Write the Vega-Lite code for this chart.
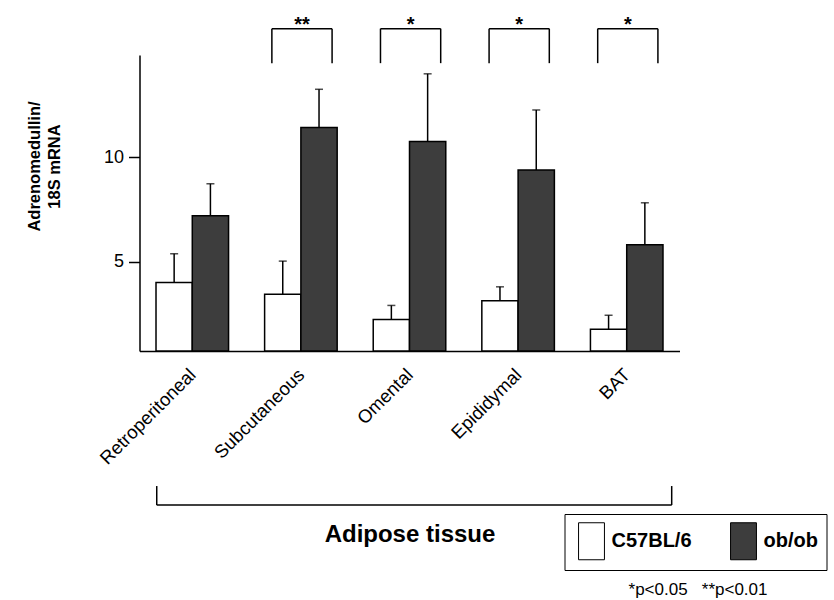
{
  "$schema": "https://vega.github.io/schema/vega-lite/v6.json",
  "width": 540,
  "height": 296,
  "autosize": {"type": "none"},
  "padding": {"left": 139.5, "top": 55, "right": 154.5, "bottom": 249},
  "background": "white",
  "config": {
    "view": {"stroke": null},
    "font": "Liberation Sans",
    "axis": {"domainColor": "black", "tickColor": "black", "labelColor": "black", "titleColor": "black", "domainWidth": 1.5, "tickWidth": 1.5, "grid": false}
  },
  "title": {
    "text": "*p<0.05\u00a0\u00a0\u00a0**p<0.01",
    "orient": "bottom",
    "anchor": "end",
    "frame": "group",
    "fontSize": 17,
    "fontWeight": "normal",
    "color": "black",
    "dx": 88,
    "offset": 11
  },
  "datasets": {
    "expr": [
      {"tissue": "Retroperitoneal", "genotype": "C57BL/6", "value": 4.01, "upper": 5.38},
      {"tissue": "Retroperitoneal", "genotype": "ob/ob", "value": 7.2, "upper": 8.73},
      {"tissue": "Subcutaneous", "genotype": "C57BL/6", "value": 3.44, "upper": 5.03},
      {"tissue": "Subcutaneous", "genotype": "ob/ob", "value": 11.42, "upper": 13.25},
      {"tissue": "Omental", "genotype": "C57BL/6", "value": 2.24, "upper": 2.91},
      {"tissue": "Omental", "genotype": "ob/ob", "value": 10.75, "upper": 13.99},
      {"tissue": "Epididymal", "genotype": "C57BL/6", "value": 3.13, "upper": 3.8},
      {"tissue": "Epididymal", "genotype": "ob/ob", "value": 9.39, "upper": 12.26},
      {"tissue": "BAT", "genotype": "C57BL/6", "value": 1.77, "upper": 2.44},
      {"tissue": "BAT", "genotype": "ob/ob", "value": 5.81, "upper": 7.82}
    ],
    "sig": [
      {"tissue": "Subcutaneous", "label": "**"},
      {"tissue": "Omental", "label": "*"},
      {"tissue": "Epididymal", "label": "*"},
      {"tissue": "BAT", "label": "*"}
    ],
    "span": [{"group": "Adipose tissue"}]
  },
  "encoding": {
    "x": {
      "field": "tissue",
      "type": "nominal",
      "scale": {"domain": ["Retroperitoneal", "Subcutaneous", "Omental", "Epididymal", "BAT"], "paddingInner": 0.332, "paddingOuter": 0.152},
      "axis": {
        "title": "Adipose tissue",
        "ticks": false,
        "labelAngle": -45,
        "labelAlign": "right",
        "labelBaseline": "top",
        "labelFontSize": 18.5,
        "labelPadding": 14,
        "labelOffset": -6,
        "titleFontSize": 24,
        "titleFontWeight": "bold",
        "titleY": 190,
        "titleBaseline": "alphabetic"
      }
    }
  },
  "layer": [
    {
      "data": {"name": "expr"},
      "mark": {"type": "bar", "stroke": "black", "strokeWidth": 1.5},
      "encoding": {
        "xOffset": {"field": "genotype", "type": "nominal", "scale": {"domain": ["C57BL/6", "ob/ob"], "paddingInner": 0, "paddingOuter": 0}},
        "y": {
          "field": "value",
          "type": "quantitative",
          "scale": {"domain": [0.73, 14.89], "nice": false, "zero": false},
          "axis": {
            "title": ["Adrenomedullin/", "18S mRNA"],
            "values": [5, 10],
            "tickSize": 11,
            "labelPadding": 5,
            "labelFontSize": 18,
            "titleFontSize": 16.5,
            "titleFontWeight": "bold",
            "titleLineHeight": 20,
            "titleAngle": -90,
            "titleAlign": "center",
            "titleBaseline": "top",
            "titleX": -113,
            "titleY": 111
          }
        },
        "y2": {"datum": 0.73},
        "fill": {
          "field": "genotype",
          "type": "nominal",
          "scale": {"domain": ["C57BL/6", "ob/ob"], "range": ["white", "#3d3d3d"]},
          "legend": {
            "orient": "none",
            "legendX": 425,
            "legendY": 459,
            "direction": "horizontal",
            "title": null,
            "strokeColor": "black",
            "fillColor": "white",
            "padding": 8,
            "symbolType": "M-0.7,-1H0.7V1H-0.7Z",
            "symbolSize": 1369,
            "symbolStrokeColor": "black",
            "symbolStrokeWidth": 1,
            "symbolOpacity": 1,
            "labelFontSize": 20,
            "labelFontWeight": "bold",
            "labelColor": "black",
            "labelOffset": 1,
            "columnPadding": 32
          }
        }
      }
    },
    {
      "data": {"name": "expr"},
      "mark": {"type": "rule", "color": "black", "strokeWidth": 1.5},
      "encoding": {
        "xOffset": {"field": "genotype", "type": "nominal"},
        "y": {"field": "value", "type": "quantitative"},
        "y2": {"field": "upper"}
      }
    },
    {
      "data": {"name": "expr"},
      "mark": {"type": "tick", "orient": "horizontal", "size": 8, "thickness": 1.5, "color": "black"},
      "encoding": {
        "xOffset": {"field": "genotype", "type": "nominal"},
        "y": {"field": "upper", "type": "quantitative"}
      }
    },
    {
      "data": {"name": "sig"},
      "mark": {"type": "rule", "color": "black", "strokeWidth": 1.5},
      "encoding": {
        "x": {"field": "tissue", "type": "nominal", "bandPosition": 0.1},
        "x2": {"field": "tissue", "bandPosition": 0.93},
        "y": {"datum": 16.15}
      }
    },
    {
      "data": {"name": "sig"},
      "mark": {"type": "rule", "color": "black", "strokeWidth": 1.5},
      "encoding": {
        "x": {"field": "tissue", "type": "nominal", "bandPosition": 0.1},
        "y": {"datum": 14.5},
        "y2": {"datum": 16.15}
      }
    },
    {
      "data": {"name": "sig"},
      "mark": {"type": "rule", "color": "black", "strokeWidth": 1.5},
      "encoding": {
        "x": {"field": "tissue", "type": "nominal", "bandPosition": 0.93},
        "y": {"datum": 14.5},
        "y2": {"datum": 16.15}
      }
    },
    {
      "data": {"name": "sig"},
      "mark": {"type": "text", "color": "black", "fontSize": 20, "fontWeight": "bold", "baseline": "alphabetic", "dy": 2},
      "encoding": {
        "x": {"field": "tissue", "type": "nominal", "bandPosition": 0.515},
        "y": {"datum": 16.15},
        "text": {"field": "label"}
      }
    },
    {
      "data": {"name": "span"},
      "mark": {"type": "rule", "color": "black", "strokeWidth": 1.5},
      "encoding": {
        "x": {"datum": "Retroperitoneal", "bandPosition": 0.01},
        "x2": {"datum": "BAT", "bandPosition": 1.12},
        "y": {"datum": -6.64}
      }
    },
    {
      "data": {"name": "span"},
      "mark": {"type": "rule", "color": "black", "strokeWidth": 1.5},
      "encoding": {
        "x": {"datum": "Retroperitoneal", "bandPosition": 0.01},
        "y": {"datum": -5.73},
        "y2": {"datum": -6.64}
      }
    },
    {
      "data": {"name": "span"},
      "mark": {"type": "rule", "color": "black", "strokeWidth": 1.5},
      "encoding": {
        "x": {"datum": "BAT", "bandPosition": 1.12},
        "y": {"datum": -5.73},
        "y2": {"datum": -6.64}
      }
    }
  ]
}
